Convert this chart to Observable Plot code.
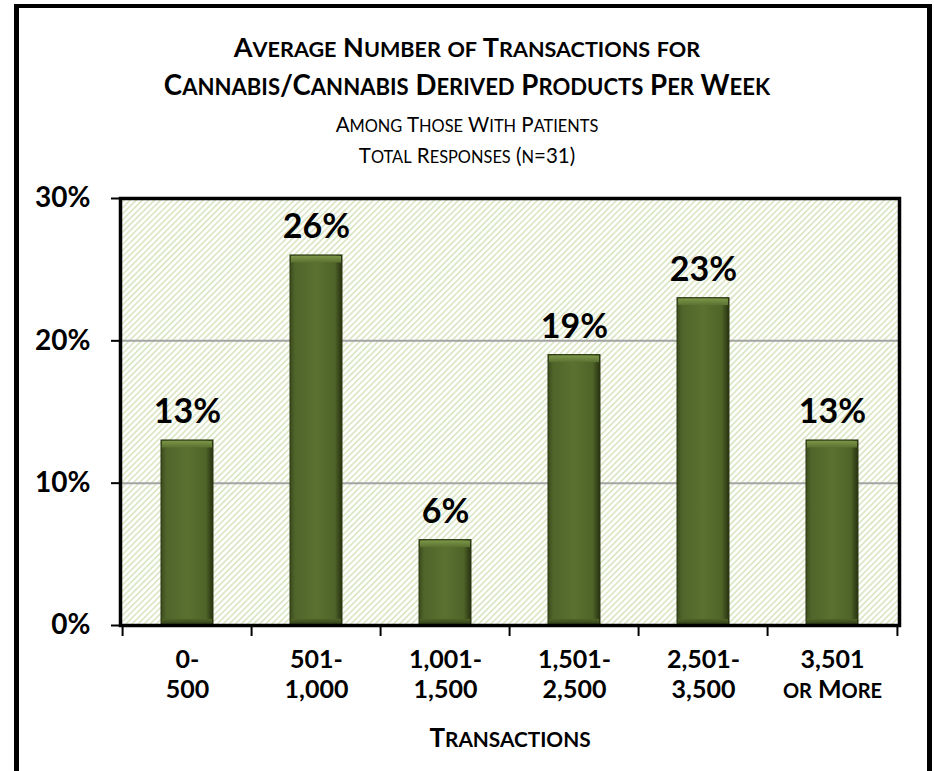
<!DOCTYPE html>
<html>
<head>
<meta charset="utf-8">
<script src="https://cdn.jsdelivr.net/npm/d3@7"></script>
<script src="https://cdn.jsdelivr.net/npm/@observablehq/plot@0.6"></script>
<style>
  html, body { margin: 0; padding: 0; background: #fff; }
  #page { position: relative; width: 934px; height: 771px; overflow: hidden; font-family: Lato, sans-serif; color: #000; }
  #border { position: absolute; left: 14px; top: 4px; width: 918px; height: 780px; box-sizing: border-box; border: 5px solid #000; border-top-width: 4px; }
  .t { position: absolute; left: 0; width: 934px; text-align: center; white-space: nowrap; }
  .t1 { font-weight: bold; font-size: 27px; }
  .t2 { font-weight: normal; font-size: 20.5px; }
  .sm { font-size: 0.8em; }
  #chart { position: absolute; left: 0; top: 170px; }
</style>
</head>
<body>
<div id="page">
  <div id="border"></div>
  <div class="t t1" id="title1" style="top:30px;line-height:34px;"></div>
  <div class="t t1" id="title2" style="top:68px;line-height:34px;font-size:27.6px;"></div>
  <div class="t t2" id="sub1" style="top:110px;line-height:28px;"></div>
  <div class="t t2" id="sub2" style="top:141px;line-height:28px;"></div>
  <div id="chart"></div>
</div>
<script>
const titleLines = ["Average Number of Transactions for", "Cannabis/Cannabis Derived Products Per Week"];
const subtitleLines = ["Among Those With Patients", "Total Responses (n=31)"];
const categories = ["0-\n500", "501-\n1,000", "1,001-\n1,500", "1,501-\n2,500", "2,501-\n3,500", "3,501\nor More"];
const values = [13, 26, 6, 19, 23, 13];
const yTicks = [0, 10, 20, 30];
const gridValues = [10, 20];
const xTitle = "Transactions";

// small-caps helper for HTML: lowercase runs become smaller capitals
function smallCapsHTML(s) {
  return s.replace(/[a-z]+/g, m => `<span class="sm">${m.toUpperCase()}</span>`);
}
document.getElementById("title1").innerHTML = smallCapsHTML(titleLines[0]);
document.getElementById("title2").innerHTML = smallCapsHTML(titleLines[1]);
document.getElementById("sub1").innerHTML = smallCapsHTML(subtitleLines[0]);
document.getElementById("sub2").innerHTML = smallCapsHTML(subtitleLines[1]);

const rows = categories.map((c, i) => ({cat: c, v: values[i]}));

const W = 934, H = 601, ML = 120, MR = 35, MT = 28, MB = 146;
const step = (W - ML - MR) / categories.length;

const svg = Plot.plot({
  width: W, height: H,
  marginLeft: ML, marginRight: MR, marginTop: MT, marginBottom: MB,
  style: {fontFamily: "Lato, sans-serif", color: "#000", background: "transparent"},
  x: {type: "band", domain: categories, paddingInner: 0.6, paddingOuter: 0.3, label: null},
  y: {domain: [0, 30], label: null},
  marks: [
    Plot.frame({fill: "url(#hatch)", stroke: "none"}),
    Plot.ruleY(gridValues, {stroke: "#a3a3a3", strokeWidth: 2}),
    Plot.barY(rows, {x: "cat", y: "v", fill: "url(#barGrad)", stroke: "#2c3813", strokeWidth: 1}),
    Plot.rectY(rows, {x: "cat", y1: d => d.v - 0.6, y2: "v", fill: "url(#topGrad)", inset: 1}),
    Plot.rectY(rows, {x: "cat", y1: 0, y2: 0.5, fill: "url(#botGrad)", inset: 1}),
    Plot.text(rows, {x: "cat", y: "v", text: d => d.v + "%", dy: -28, fontSize: 34, fontWeight: "bold", fill: "#000"}),
    Plot.frame({stroke: "#000", strokeWidth: 3.5}),
    Plot.axisY({ticks: yTicks, tickFormat: d => d + "%", tickSize: 9, tickPadding: 21, fontSize: 28, fontWeight: "bold", strokeWidth: 2, label: null}),
    Plot.axisX({tickSize: 11, strokeWidth: 2, dx: -step / 2, tickFormat: () => "", label: null}),
    Plot.axisX([categories[categories.length - 1]], {tickSize: 11, strokeWidth: 2, dx: step / 2, tickFormat: () => "", label: null}),
    Plot.axisX({tickSize: 0, tickPadding: 21, fontSize: 25, fontWeight: "bold", lineHeight: 1.2, label: null}),
    Plot.text([xTitle], {frameAnchor: "bottom", lineAnchor: "middle", dy: 113, fontSize: 26, fontWeight: "bold", fill: "#000"})
  ]
});

// small capitals inside SVG text: lowercase runs become smaller tspans
d3.select(svg).selectAll("text, tspan").each(function () {
  if (this.children.length > 0) return;
  const s = this.textContent;
  if (!/[a-z]/.test(s)) return;
  const el = d3.select(this);
  el.text(null);
  s.split(/([a-z]+)/).filter(p => p.length).forEach(p => {
    const t = el.append("tspan").text(/[a-z]/.test(p) ? p.toUpperCase() : p);
    if (/[a-z]/.test(p)) t.attr("font-size", "0.8em");
  });
});

const defs = d3.select(svg).insert("defs", ":first-child");
defs.html(`
  <pattern id="hatch" patternUnits="userSpaceOnUse" width="4.3" height="4.3" patternTransform="rotate(45)">
    <rect width="4.3" height="4.3" fill="#ffffff"/>
    <rect x="0" y="0" width="1.6" height="4.3" fill="#d9e5c2"/>
  </pattern>
  <linearGradient id="barGrad" x1="0" x2="1" y1="0" y2="0">
    <stop offset="0" stop-color="#3c4b1d"/>
    <stop offset="0.1" stop-color="#50652a"/>
    <stop offset="0.5" stop-color="#5a7131"/>
    <stop offset="0.86" stop-color="#4f6428"/>
    <stop offset="1" stop-color="#27310f"/>
  </linearGradient>
  <linearGradient id="topGrad" x1="0" x2="0" y1="0" y2="1">
    <stop offset="0" stop-color="#7a9547"/>
    <stop offset="1" stop-color="#5a7131"/>
  </linearGradient>
  <linearGradient id="botGrad" x1="0" x2="0" y1="0" y2="1">
    <stop offset="0" stop-color="#4f6428"/>
    <stop offset="1" stop-color="#34421a"/>
  </linearGradient>
`);

document.getElementById("chart").appendChild(svg);
</script>
</body>
</html>
